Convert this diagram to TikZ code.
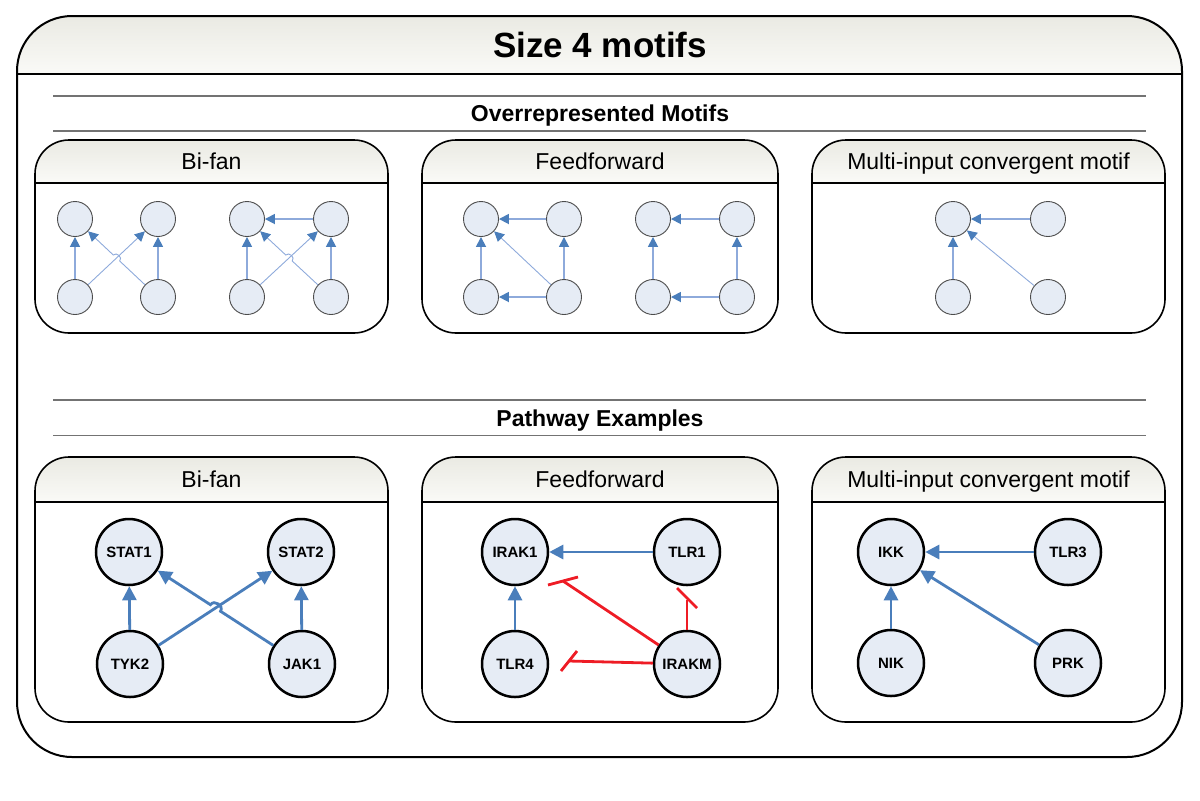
\documentclass[tikz,border=0pt]{standalone}
\usepackage{fontspec}
\setmainfont{Liberation Sans}
\usetikzlibrary{arrows.meta,calc}
\definecolor{nodefill}{HTML}{E6ECF5}
\definecolor{tipblue}{HTML}{4A7EBB}
\definecolor{lineblue}{HTML}{8EAADB}
\definecolor{hdtop}{HTML}{EAEAE3}
\definecolor{hdbot}{HTML}{FAFAF7}
\definecolor{inhred}{HTML}{EE1C25}
\tikzset{
  smallnode/.style={circle, draw=black!70, line width=0.45pt, fill=nodefill, minimum size=17.5pt, inner sep=0pt},
  bignode/.style={circle, draw=black, line width=1.25pt, fill=nodefill, minimum size=33pt, inner sep=0pt, font=\bfseries\fontsize{7.5}{9}\selectfont},
  sarr/.style={draw=lineblue, line width=0.85pt, -{Triangle[length=5pt,width=5pt,color=tipblue,fill=tipblue]}},
  sarrthin/.style={sarr, line width=0.45pt},
  barr/.style={draw=tipblue, line width=1.4pt, -{Triangle[length=7pt,width=7pt]}},
  inh/.style={draw=inhred, line width=1.4pt},
  panelborder/.style={draw=black, line width=0.8pt},
  paneltitle/.style={anchor=base, font=\fontsize{11.5}{13}\selectfont},
  sectitle/.style={anchor=base, font=\bfseries\fontsize{11.5}{13}\selectfont},
  sepline/.style={draw=black!55, line width=0.6pt},
}
\newcommand{\mypanel}[7]{% x1 y1 x2 y2 yheader name title
  \shade[top color=hdtop, bottom color=hdbot, rounded corners=17pt] (#1,#5) -- (#1,#2) -- (#3,#2) -- (#3,#5);
  \draw[panelborder, rounded corners=17pt] (#1,#2) rectangle (#3,#4);
  \draw[panelborder] (#1,#5) -- (#3,#5);
  \node[paneltitle] (#6) at ({(#1+#3)/2},{(#2+#5)/2+7.7}) {#7};
}
\begin{document}
\begin{tikzpicture}[x=0.5pt,y=-0.5pt]
\useasboundingbox (0,0) rectangle (1200,800);
% outer frame
\shade[top color=hdtop, bottom color=hdbot, rounded corners=27.5pt] (17,74) -- (17,16) -- (1182,16) -- (1182,74);
\draw[black, line width=1pt, rounded corners=27.5pt] (17,16) rectangle (1182,757);
\draw[black, line width=1pt] (17,74) -- (1182,74);
\node[anchor=base, font=\bfseries\fontsize{17.5}{20}\selectfont] (title) at (600,57) {Size 4 motifs};
% section separators
\draw[sepline] (53,96) -- (1146,96);
\draw[sepline] (53,131) -- (1146,131);
\node[sectitle] (over) at (600,121.5) {Overrepresented Motifs};
\draw[sepline] (53,400) -- (1146,400);
\draw[sepline] (53,435.5) -- (1146,435.5);
\node[sectitle] (path) at (600,426) {Pathway Examples};
% panels
\mypanel{35}{140}{388}{333}{183}{tA}{Bi-fan}
\mypanel{422}{140}{778}{333}{183}{tB}{Feedforward}
\mypanel{812}{140}{1165}{333}{183}{tC}{Multi-input convergent motif}
\mypanel{35}{457}{388}{722}{502}{tD}{Bi-fan}
\mypanel{422}{457}{778}{722}{502}{tE}{Feedforward}
\mypanel{812}{457}{1165}{722}{502}{tF}{Multi-input convergent motif}

% ---- top: bi-fan motif 1
\node[smallnode] (a1) at (75,219) {};
\node[smallnode] (a2) at (158,219) {};
\node[smallnode] (a3) at (75,297) {};
\node[smallnode] (a4) at (158,297) {};
\draw[sarr] (a3) -- (a1);
\draw[sarr] (a4) -- (a2);
\draw[sarrthin] (a3) -- (a2);
\coordinate (ax) at ($(a1)!0.5!(a4)$);
\coordinate (axA) at ($(ax)!2.2pt!(a4)$);
\coordinate (axB) at ($(ax)!2.2pt!(a1)$);
\draw[sarrthin] (a4) -- (axA) to[bend right=90, looseness=1.4] (axB) -- (a1);
% ---- top: bi-fan motif 2
\node[smallnode] (b1) at (247,219) {};
\node[smallnode] (b2) at (331,219) {};
\node[smallnode] (b3) at (247,297) {};
\node[smallnode] (b4) at (331,297) {};
\draw[sarr] (b3) -- (b1);
\draw[sarr] (b4) -- (b2);
\draw[sarr] (b2) -- (b1);
\draw[sarrthin] (b3) -- (b2);
\coordinate (bx) at ($(b1)!0.5!(b4)$);
\coordinate (bxA) at ($(bx)!2.2pt!(b4)$);
\coordinate (bxB) at ($(bx)!2.2pt!(b1)$);
\draw[sarrthin] (b4) -- (bxA) to[bend right=90, looseness=1.4] (bxB) -- (b1);
% ---- top: feedforward motif 1
\node[smallnode] (c1) at (481,219) {};
\node[smallnode] (c2) at (564,219) {};
\node[smallnode] (c3) at (481,297) {};
\node[smallnode] (c4) at (564,297) {};
\draw[sarr] (c2) -- (c1);
\draw[sarr] (c3) -- (c1);
\draw[sarr] (c4) -- (c3);
\draw[sarr] (c4) -- (c2);
\draw[sarrthin] (c4) -- (c1);
% ---- top: feedforward motif 2
\node[smallnode] (d1) at (653,219) {};
\node[smallnode] (d2) at (737,219) {};
\node[smallnode] (d3) at (653,297) {};
\node[smallnode] (d4) at (737,297) {};
\draw[sarr] (d2) -- (d1);
\draw[sarr] (d3) -- (d1);
\draw[sarr] (d4) -- (d3);
\draw[sarr] (d4) -- (d2);
% ---- top: multi-input
\node[smallnode] (e1) at (953,219) {};
\node[smallnode] (e2) at (1048,219) {};
\node[smallnode] (e3) at (953,297) {};
\node[smallnode] (e4) at (1048,297) {};
\draw[sarr] (e2) -- (e1);
\draw[sarr] (e3) -- (e1);
\draw[sarrthin] (e4) -- (e1);

% ---- pathway: bi-fan
\node[bignode] (stat1) at (129,552) {STAT1};
\node[bignode] (stat2) at (301,552) {STAT2};
\node[bignode] (tyk2) at (130,664) {TYK2};
\node[bignode] (jak1) at (302,664) {JAK1};
\draw[barr] (tyk2) -- (stat1);
\draw[barr] (jak1) -- (stat2);
\draw[barr] (tyk2) -- (stat2);
\coordinate (px) at ($(stat1)!0.5!(jak1)$);
\coordinate (pxA) at ($(px)!3pt!(jak1)$);
\coordinate (pxB) at ($(px)!3pt!(stat1)$);
\draw[barr] (jak1) -- (pxA) to[bend right=90, looseness=1.4] (pxB) -- (stat1);
% ---- pathway: feedforward
\node[bignode] (irak1) at (515,552) {IRAK1};
\node[bignode] (tlr1) at (687,552) {TLR1};
\node[bignode] (tlr4) at (515,664) {TLR4};
\node[bignode] (irakm) at (687,664) {IRAKM};
\draw[barr] (tlr1) -- (irak1);
\draw[barr] (tlr4) -- (irak1);
\coordinate (iA) at (563,581);
\coordinate (iA1) at (548,585);
\coordinate (iA2) at (578,577);
\draw[inh] (irakm) -- (iA);
\draw[inh] (iA1) -- (iA2);
\coordinate (iB) at (687,600);
\coordinate (iB1) at (677,588);
\coordinate (iB2) at (697,608);
\draw[inh] (irakm) -- (iB);
\draw[inh] (iB1) -- (iB2);
\coordinate (iC) at (569,661);
\coordinate (iC1) at (561,671);
\coordinate (iC2) at (577,651);
\draw[inh] (irakm) -- (iC);
\draw[inh] (iC1) -- (iC2);
% ---- pathway: multi-input
\node[bignode] (ikk) at (891,552) {IKK};
\node[bignode] (tlr3) at (1068,552) {TLR3};
\node[bignode] (nik) at (891,663) {NIK};
\node[bignode] (prk) at (1068,663) {PRK};
\draw[barr] (tlr3) -- (ikk);
\draw[barr] (nik) -- (ikk);
\draw[barr] (prk) -- (ikk);
\end{tikzpicture}
\end{document}
